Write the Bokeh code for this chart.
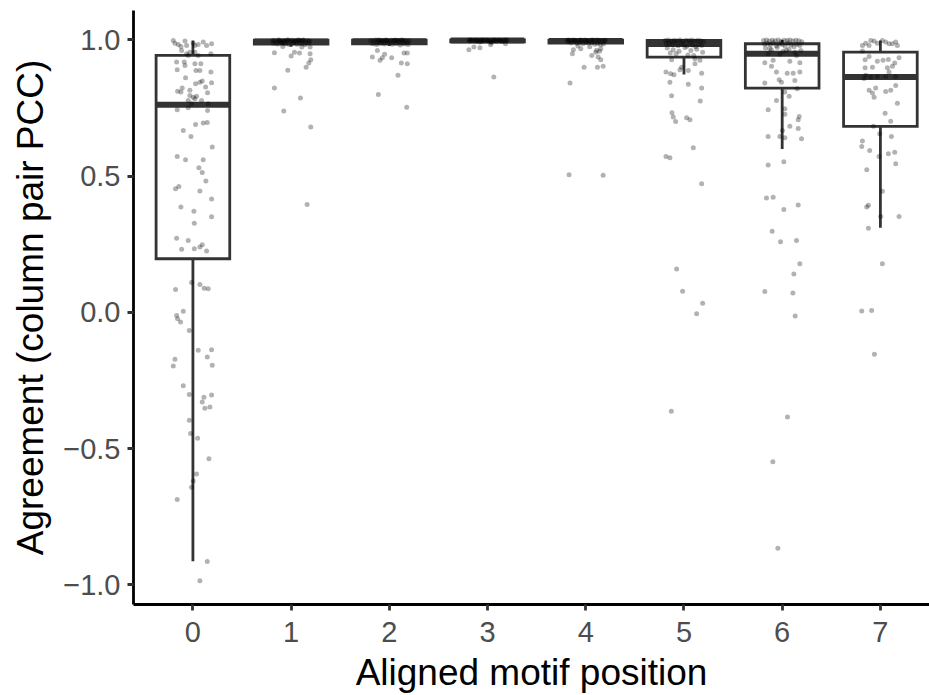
import numpy as np
from bokeh.plotting import figure
from bokeh.models import Range1d, FixedTicker
from bokeh.embed import file_html
from bokeh.resources import INLINE

# ---------------- data ----------------
positions = [0, 1, 2, 3, 4, 5, 6, 7]
x_tick_labels = ["0", "1", "2", "3", "4", "5", "6", "7"]
y_ticks = [-1.0, -0.5, 0.0, 0.5, 1.0]
y_tick_labels = ["\u22121.0", "\u22120.5", "0.0", "0.5", "1.0"]

# box statistics
box_q1 = [0.197, 0.985, 0.986, 0.993, 0.988, 0.937, 0.823, 0.683]
box_med = [0.762, 0.994, 0.995, 0.998, 0.996, 0.985, 0.949, 0.864]
box_q3 = [0.943, 0.999, 0.999, 1.000, 0.999, 0.998, 0.986, 0.955]
whisk_lo = [-0.913, 0.975, 0.978, 0.990, 0.983, 0.873, 0.600, 0.311]
whisk_hi = [0.998, 1.000, 1.000, 1.000, 1.000, 1.000, 1.000, 0.998]

# jittered points: horizontal jitter and agreement value per position
jit_0 = [-0.200, -0.183, -0.149, -0.122, -0.081, -0.064, 0.003, 0.020, 0.054, 0.105, 0.139, 0.190,
         -0.115, -0.064, -0.048, -0.031, 0.020, 0.054, 0.183, -0.166, -0.088, -0.081, 0.020, 0.081,
         -0.160, 0.031, 0.071, 0.183, -0.075, 0.027, 0.071, 0.095, 0.190, -0.109, 0.129, -0.156,
         -0.122, -0.031, 0.149, -0.031, 0.003, 0.020, 0.037, -0.048, 0.088, -0.014, 0.156, -0.160,
         -0.048, 0.149, 0.027, 0.105, 0.146, -0.098, -0.020, 0.197, -0.160, -0.075, 0.105,
         0.061, 0.095, 0.132, -0.177, -0.143, 0.071, 0.190, -0.122, 0.010, 0.190, 0.014, -0.166,
         -0.048, -0.115, 0.014, 0.071, 0.095, 0.139, -0.014, 0.071, 0.115, 0.156, -0.177, -0.098,
         -0.166,
         -0.156, -0.126, -0.037, 0.054, 0.190, 0.146, -0.183, -0.200, 0.197, -0.098, -0.037, 0.112,
         0.190, 0.095, 0.122, 0.173, -0.037, -0.024, 0.048, 0.163, 0.037, 0.003, -0.014, -0.160,
         0.146, 0.071]
val_0 = [0.998, 0.988, 0.983, 0.976, 0.996, 0.980, 0.988, 0.980, 0.983, 0.992, 0.980, 0.986,
         0.961, 0.949, 0.943, 0.955, 0.955, 0.943, 0.949, 0.919, 0.919, 0.906, 0.913, 0.913,
         0.891, 0.888, 0.888, 0.882, 0.861, 0.839, 0.845, 0.849, 0.843, 0.824, 0.827, 0.812,
         0.809, 0.815, 0.806, 0.796, 0.790, 0.784, 0.793, 0.778, 0.778, 0.766, 0.766, 0.744,
         0.751, 0.741, 0.690, 0.695, 0.697, 0.668, 0.646, 0.607, 0.572, 0.560, 0.560,
         0.531, 0.513, 0.482, 0.454, 0.462, 0.446, 0.416, 0.387, 0.371, 0.351, 0.327, 0.272,
         0.264, 0.232, 0.234, 0.240, 0.248, 0.225, 0.110, 0.102, 0.089, 0.087, 0.084, 0.004,
         -0.011,
         -0.023, -0.035, -0.066, -0.139, -0.137, -0.164, -0.172, -0.197, -0.194, -0.269, -0.301, -0.311,
         -0.303, -0.329, -0.352, -0.347, -0.396, -0.444, -0.462, -0.537, -0.593, -0.619, -0.642, -0.687,
         -0.914, -0.985]

jit_1 = [-0.19, -0.17, -0.15, -0.13, -0.11, -0.09, -0.07, -0.05, -0.03, -0.01, 0.01, 0.03, 0.05,
         0.07, 0.09, 0.11, 0.13, 0.15, 0.17, 0.19, -0.18, -0.14, -0.10, -0.06, -0.02, 0.02, 0.06,
         0.10, 0.14, 0.18, -0.12, -0.04, 0.04, 0.12, -0.08, 0.08,
         -0.170, -0.085, 0.000, 0.034, 0.085, 0.109, 0.193, 0.193, 0.200, 0.180, 0.153, -0.034,
         -0.170, 0.095, -0.075, 0.200, 0.163]
val_1 = [0.997, 0.999, 0.993, 1.000, 0.996, 0.990, 0.998, 0.994, 1.000, 0.997, 0.999, 0.992, 0.996,
         1.000, 0.998, 0.995, 0.999, 0.991, 0.997, 0.995, 0.988, 0.985, 0.990, 0.986, 0.983, 0.989,
         0.984, 0.987, 0.982, 0.990, 0.999, 1.000, 0.998, 1.000, 0.996, 0.999,
         0.953, 0.976, 0.941, 0.955, 0.952, 0.974, 0.974, 0.949, 0.927, 0.915, 0.900, 0.889,
         0.824, 0.787, 0.739, 0.680, 0.396]

jit_2 = [-0.19, -0.16, -0.14, -0.12, -0.10, -0.08, -0.06, -0.04, -0.02, 0.00, 0.02, 0.04, 0.06,
         0.08, 0.10, 0.12, 0.14, 0.16, 0.18, 0.20, -0.17, -0.13, -0.09, -0.05, -0.01, 0.03, 0.07,
         0.11, 0.15, 0.19, -0.11, -0.03, 0.05, 0.13, -0.07, 0.09,
         -0.173, -0.122, -0.095, -0.071, -0.048, 0.024, 0.122, 0.149, 0.183, 0.183, 0.088, -0.112,
         0.177]
val_2 = [0.998, 0.996, 1.000, 0.993, 0.999, 0.997, 0.995, 1.000, 0.998, 0.994, 0.999, 0.996, 1.000,
         0.997, 0.993, 0.999, 0.995, 0.998, 0.992, 0.997, 0.986, 0.983, 0.988, 0.985, 0.989, 0.984,
         0.987, 0.981, 0.986, 0.983, 1.000, 0.999, 0.998, 1.000, 0.997, 0.999,
         0.937, 0.961, 0.925, 0.935, 0.947, 0.935, 0.915, 0.952, 0.952, 0.913, 0.870, 0.800,
         0.753]

jit_3 = [-0.19, -0.16, -0.13, -0.10, -0.07, -0.04, -0.01, 0.02, 0.05, 0.08, 0.11, 0.14, 0.17,
         0.20, -0.18, -0.15, -0.12, -0.09, -0.06, -0.03, 0.00, 0.03, 0.06, 0.09, 0.12, 0.15, 0.18,
         -0.17, -0.11, -0.05, 0.01, 0.07, 0.13, 0.19, -0.08, 0.04,
         -0.190, -0.139, -0.078, 0.031, 0.064, 0.183]
val_3 = [1.000, 0.999, 1.000, 0.998, 1.000, 0.999, 1.000, 0.997, 1.000, 0.999, 1.000, 0.998, 1.000,
         0.999, 0.996, 0.998, 0.995, 0.997, 0.994, 0.998, 0.996, 0.993, 0.997, 0.995, 0.998, 0.994,
         0.996, 1.000, 1.000, 1.000, 0.999, 1.000, 0.999, 1.000, 0.992, 0.990,
         0.964, 0.974, 0.971, 0.982, 0.864, 0.986]

jit_4 = [-0.19, -0.16, -0.13, -0.10, -0.07, -0.04, -0.01, 0.02, 0.05, 0.08, 0.11, 0.14, 0.17,
         0.20, -0.18, -0.15, -0.12, -0.09, -0.06, -0.03, 0.00, 0.03, 0.06, 0.09, 0.12, 0.15, 0.18,
         -0.17, -0.11, -0.05, 0.01, 0.07, 0.13, 0.19, -0.08, 0.04,
         -0.160, -0.170, 0.177, -0.136, -0.126, -0.051, -0.017, 0.061, 0.102, 0.126, 0.153, 0.119,
         0.177, 0.153, 0.110, 0.140]
val_4 = [0.999, 0.997, 1.000, 0.996, 0.999, 0.998, 1.000, 0.995, 0.999, 0.997, 1.000, 0.996, 0.998,
         0.999, 0.993, 0.990, 0.995, 0.988, 0.992, 0.986, 0.994, 0.989, 0.991, 0.984, 0.987, 0.982,
         0.985, 1.000, 0.999, 1.000, 0.998, 1.000, 0.999, 0.997, 0.978, 0.975,
         0.842, 0.505, 0.503, 0.949, 0.964, 0.968, 0.900, 0.943, 0.955, 0.937, 0.927, 0.900,
         0.903, 0.968, 0.962, 0.958]

jit_5 = [-0.19, -0.16, -0.13, -0.10, -0.07, -0.04, -0.01, 0.02, 0.05, 0.08, 0.11, 0.14, 0.17,
         0.20, -0.18, -0.15, -0.12, -0.09, -0.06, -0.03, 0.00, 0.03, 0.06, 0.09, 0.12, 0.15, 0.18,
         -0.17, -0.11, -0.05, 0.01, 0.07, 0.13, 0.19, -0.08, 0.04, -0.14, 0.10,
         -0.183, -0.136, -0.102, -0.143, 0.044, 0.180, 0.180, -0.126, 0.166, -0.122, -0.109, -0.085,
         0.027, 0.061, 0.095, -0.183, -0.143, 0.180, -0.075, -0.014, 0.190, 0.129, -0.129,
         -0.024, -0.041, 0.044, 0.112, 0.163, -0.126, 0.112]
val_5 = [0.998, 1.000, 0.996, 0.999, 0.997, 1.000, 0.995, 0.999, 0.998, 1.000, 0.996, 0.999, 0.997,
         0.994, 0.985, 0.988, 0.982, 0.990, 0.979, 0.986, 0.983, 0.977, 0.989, 0.981, 0.975, 0.984,
         0.980, 0.970, 0.964, 0.958, 0.972, 0.961, 0.966, 0.955, 0.949, 0.945, 0.952, 0.943,
         0.882, 0.876, 0.872, 0.845, 0.837, 0.878, 0.824, 0.795, 0.776, 0.733, 0.717, 0.701,
         0.714, 0.707, 0.604, 0.572, 0.568, 0.472, 0.159, 0.078, 0.034, -0.005, -0.363,
         0.900, 0.891, 0.888, 0.913, 0.925, 0.927, 0.931]

jit_6 = [-0.19, -0.16, -0.13, -0.10, -0.07, -0.04, -0.01, 0.02, 0.05, 0.08, 0.11, 0.14, 0.17,
         0.20, -0.18, -0.15, -0.12, -0.09, -0.06, -0.03, 0.00, 0.03, 0.06, 0.09, 0.12, 0.15, 0.18,
         -0.17, -0.11, -0.05, 0.01, 0.07, 0.13, 0.19,
         -0.177, -0.109, -0.058, -0.031, -0.007, 0.051, 0.112, 0.129, 0.180, -0.177, -0.092, 0.078,
         0.180, 0.146, -0.143, -0.024, 0.044, -0.126,
         0.153, 0.027, 0.071, -0.058, -0.143, 0.027, 0.027, 0.173, 0.163, 0.078, 0.163, 0.003,
         -0.143, -0.024, 0.027, 0.197, -0.143, 0.017, -0.160, -0.092, 0.163, 0.017, -0.102, -0.017,
         0.146, 0.180, 0.119, -0.177, 0.109, 0.132, 0.054, -0.095, -0.044]
val_6 = [0.998, 1.000, 0.996, 0.999, 0.997, 1.000, 0.995, 0.999, 0.998, 1.000, 0.996, 0.999, 0.997,
         0.993, 0.985, 0.988, 0.982, 0.990, 0.979, 0.986, 0.983, 0.977, 0.989, 0.981, 0.975, 0.984,
         0.980, 0.970, 0.964, 0.972, 0.958, 0.966, 0.955, 0.961,
         0.916, 0.903, 0.882, 0.854, 0.845, 0.878, 0.878, 0.851, 0.882, 0.842, 0.925, 0.922,
         0.916, 0.943, 0.949, 0.947, 0.961, 0.968,
         0.821, 0.809, 0.793, 0.778, 0.744, 0.747, 0.727, 0.719, 0.707, 0.683, 0.675, 0.668,
         0.646, 0.646, 0.641, 0.637, 0.541, 0.553, 0.420, 0.423, 0.394, 0.378, 0.298, 0.259,
         0.264, 0.179, 0.141, 0.077, 0.071, -0.013, -0.384, -0.548, -0.866]

jit_7 = [-0.149, -0.115, -0.064, -0.031, 0.054, 0.122, 0.156, 0.173, -0.098, 0.020, 0.088, -0.183,
         -0.183, -0.156, -0.115, -0.031, 0.027, 0.081, 0.146, 0.190, -0.156, -0.081, 0.071, 0.122,
         0.088, -0.149, -0.098, -0.031, 0.054, 0.156, -0.166, -0.048, -0.115, -0.064, 0.054, 0.105,
         0.156, 0.173, 0.048, 0.105, -0.081,
         -0.071, -0.007, 0.112, -0.183, -0.190, -0.109, -0.014, 0.081, 0.146, 0.156, -0.139, 0.020,
         -0.139, -0.122, 0.190, 0.003, -0.122, 0.020, -0.190, -0.089, -0.061]
val_7 = [0.988, 0.980, 0.996, 0.988, 0.992, 0.986, 0.992, 0.980, 0.998, 0.998, 0.986, 0.980,
         0.959, 0.927, 0.939, 0.922, 0.925, 0.928, 0.915, 0.935, 0.898, 0.900, 0.898, 0.903,
         0.882, 0.870, 0.864, 0.866, 0.866, 0.866, 0.858, 0.824, 0.815, 0.790, 0.811, 0.815,
         0.833, 0.768, 0.731, 0.702, 0.805,
         0.683, 0.656, 0.646, 0.629, 0.609, 0.594, 0.572, 0.582, 0.588, 0.546, 0.524, 0.445,
         0.387, 0.393, 0.352, 0.352, 0.309, 0.179, 0.005, 0.007, -0.154]

jitters = [jit_0, jit_1, jit_2, jit_3, jit_4, jit_5, jit_6, jit_7]
values = [val_0, val_1, val_2, val_3, val_4, val_5, val_6, val_7]

# ---------------- figure ----------------
BOX_HALF = 0.375
LINE_COL = "#333333"
LW = 2.8

p = figure(frame_width=796, frame_height=594,
           min_border_left=133, min_border_right=0, min_border_top=10, min_border_bottom=91,
           x_range=Range1d(-0.605, 7.5), y_range=Range1d(-1.072, 1.108),
           output_backend="svg", toolbar_location=None, background_fill_color="white",
           border_fill_color="white")
p.outline_line_color = None
p.xgrid.visible = False
p.ygrid.visible = False

pos = np.array(positions, dtype=float)
q1 = np.array(box_q1)
q3 = np.array(box_q3)
med = np.array(box_med)
lo = np.array(whisk_lo)
hi = np.array(whisk_hi)

# whiskers
p.segment(x0=pos, y0=q1, x1=pos, y1=lo, line_color=LINE_COL, line_width=LW)
p.segment(x0=pos, y0=q3, x1=pos, y1=hi, line_color=LINE_COL, line_width=LW)
# boxes
p.quad(left=pos - BOX_HALF, right=pos + BOX_HALF, bottom=q1, top=q3,
       fill_color="white", line_color=LINE_COL, line_width=LW, line_join="miter")
# medians
p.segment(x0=pos - BOX_HALF, y0=med, x1=pos + BOX_HALF, y1=med,
          line_color=LINE_COL, line_width=6, line_cap="butt")

# jittered points
xs = np.concatenate([k + np.array(j) for k, j in zip(positions, jitters)])
ys = np.concatenate([np.array(v) for v in values])
p.scatter(xs, ys, size=5, fill_color="black", fill_alpha=0.3, line_color=None)

# axes
for ax in (p.xaxis[0], p.yaxis[0]):
    ax.axis_line_color = "black"
    ax.axis_line_width = LW
    ax.major_tick_line_color = LINE_COL
    ax.major_tick_line_width = LW
    ax.major_tick_out = 6
    ax.major_tick_in = 0
    ax.minor_tick_line_color = None
    ax.major_label_text_color = "#4d4d4d"
    ax.major_label_text_font = "Liberation Sans"
    ax.major_label_text_font_size = "29px"
    ax.axis_label_text_font = "Liberation Sans"
    ax.axis_label_text_font_size = "37px"
    ax.axis_label_text_font_style = "normal"
    ax.axis_label_text_color = "black"

p.xaxis.ticker = FixedTicker(ticks=positions)
p.xaxis.major_label_overrides = {k: lab for k, lab in zip(positions, x_tick_labels)}
p.xaxis.axis_label = "Aligned motif position"
p.xaxis.major_label_standoff = 11
p.xaxis.axis_label_standoff = 7

p.yaxis.ticker = FixedTicker(ticks=y_ticks)
p.yaxis.major_label_overrides = {t: lab for t, lab in zip(y_ticks, y_tick_labels)}
p.yaxis.axis_label = "Agreement (column pair PCC)"
p.yaxis.major_label_standoff = 7
p.yaxis.axis_label_standoff = 9

open("out.html", "w").write(file_html(p, INLINE))
